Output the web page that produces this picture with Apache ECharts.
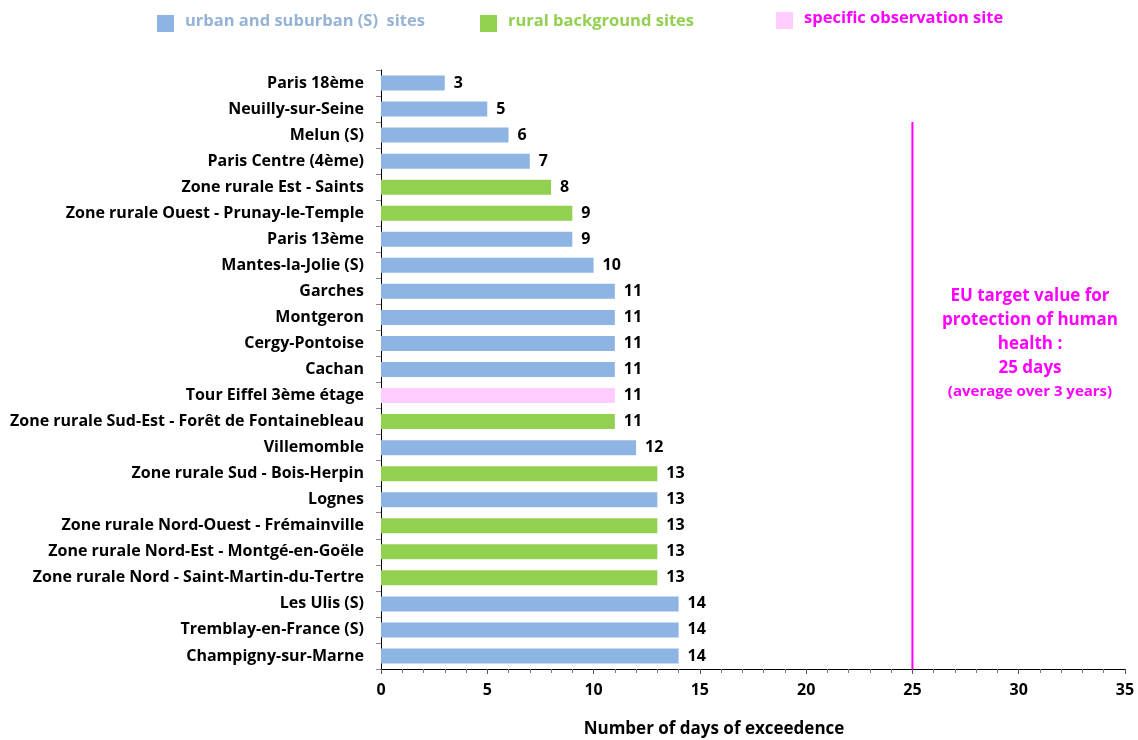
<!DOCTYPE html>
<html>
<head>
<meta charset="utf-8">
<script src="https://cdn.jsdelivr.net/npm/echarts@6/dist/echarts.min.js"></script>
<style>
    html, body { margin: 0; padding: 0; background: #fff; }
    #chart { width: 1138px; height: 740px; }
</style>
</head>
<body>
<div id="chart"></div>
<script>
var sites = [
    "Paris 18ème", "Neuilly-sur-Seine", "Melun (S)", "Paris Centre (4ème)",
    "Zone rurale Est - Saints", "Zone rurale Ouest - Prunay-le-Temple", "Paris 13ème",
    "Mantes-la-Jolie (S)", "Garches", "Montgeron", "Cergy-Pontoise", "Cachan",
    "Tour Eiffel 3ème étage", "Zone rurale Sud-Est - Forêt de Fontainebleau", "Villemomble",
    "Zone rurale Sud - Bois-Herpin", "Lognes", "Zone rurale Nord-Ouest - Frémainville",
    "Zone rurale Nord-Est - Montgé-en-Goële", "Zone rurale Nord - Saint-Martin-du-Tertre",
    "Les Ulis (S)", "Tremblay-en-France (S)", "Champigny-sur-Marne"
];
var days = [3, 5, 6, 7, 8, 9, 9, 10, 11, 11, 11, 11, 11, 11, 12, 13, 13, 13, 13, 13, 14, 14, 14];
// u = urban/suburban, r = rural background, s = specific observation
var siteType = ["u", "u", "u", "u", "r", "r", "u", "u", "u", "u", "u", "u", "s", "r", "u",
    "r", "u", "r", "r", "r", "u", "u", "u"];
var typeNames = {
    u: "urban and suburban (S)  sites",
    r: "rural background sites",
    s: "specific observation site"
};
var targetValue = 25;
var xTicks = [0, 5, 10, 15, 20, 25, 30, 35];

var barColors = { u: "#8EB4E3", r: "#92D050", s: "#FFCCFF" };
var legendTextColors = { u: "#95B3D7", r: "#92D050", s: "#FF00FF" };
var font = "'Open Sans', Lato, sans-serif";

var chart = echarts.init(document.getElementById("chart"));

function seriesFor(t) {
    var vals = [];
    for (var i = 0; i < days.length; i++) {
        vals.push(siteType[i] === t ? days[i] : "-");
    }
    return vals;
}

var series = [];
["u", "r", "s"].forEach(function (t) {
    series.push({
        name: typeNames[t],
        type: "bar",
        stack: "all",
        barWidth: 15,
        data: seriesFor(t),
        itemStyle: { color: barColors[t] },
        label: {
            show: true,
            position: "right",
            distance: 9,
            color: "#000",
            fontFamily: font,
            fontWeight: "bold",
            fontSize: 16
        },
        silent: true
    });
});

// legend drawn by hand so the three items sit where the original has them
var legendPos = { u: [157, 15], r: [480, 15], s: [776, 12] };
var graphics = [];
["u", "r", "s"].forEach(function (t) {
    var p = legendPos[t];
    graphics.push({
        type: "rect",
        left: p[0], top: p[1],
        shape: { width: 17, height: 17 },
        style: { fill: barColors[t] }
    });
    graphics.push({
        type: "text",
        x: p[0] + 28, y: p[1] + 6,
        style: {
            text: typeNames[t],
            fill: legendTextColors[t],
            font: "bold 16.5px " + font,
            verticalAlign: "middle"
        }
    });
});
graphics.push({
    type: "text",
    x: 1030, y: 284,
    style: {
        text: "{a|EU target value for}\n{a|protection of human}\n{a|health :}\n{a|25 days}\n{b|(average over 3 years)}",
        align: "center",
        fill: "#FF00FF",
        rich: {
            a: { font: "bold 17px " + font, fill: "#FF00FF", lineHeight: 24, align: "center" },
            b: { font: "bold 15px " + font, fill: "#FF00FF", lineHeight: 24, align: "center" }
        }
    }
});
graphics.push({
    type: "text",
    x: 714, y: 729,
    style: {
        text: "Number of days of exceedence",
        fill: "#000",
        font: "bold 17px " + font,
        align: "center",
        verticalAlign: "middle"
    }
});

var option = {
    backgroundColor: "#fff",
    animation: false,
    grid: { left: 381, right: 13, top: 70, bottom: 71, containLabel: false, outerBoundsMode: "none" },
    xAxis: {
        type: "value",
        min: xTicks[0],
        max: xTicks[xTicks.length - 1],
        interval: 5,
        axisLine: { show: true, lineStyle: { color: "#000", width: 1 } },
        axisTick: { show: true, length: 5, lineStyle: { color: "#555" } },
        minorTick: { show: true, splitNumber: 5, length: 4, lineStyle: { color: "#777" } },
        splitLine: { show: false },
        axisLabel: { color: "#000", fontFamily: font, fontWeight: "bold", fontSize: 16, margin: 13 }
    },
    yAxis: {
        type: "category",
        inverse: true,
        data: sites,
        axisLine: { show: true, lineStyle: { color: "#000", width: 1 } },
        axisTick: { show: true, length: 5, lineStyle: { color: "#888" } },
        axisLabel: { color: "#000", fontFamily: font, fontWeight: "bold", fontSize: 16, margin: 17 }
    },
    graphic: graphics,
    series: series
};
chart.setOption(option);

// target line: from the boundary above "Melun (S)" down to the x axis
var pA = chart.convertToPixel({ gridIndex: 0 }, [targetValue, sites[1]]);
var pB = chart.convertToPixel({ gridIndex: 0 }, [targetValue, sites[2]]);
var pEnd = chart.convertToPixel({ gridIndex: 0 }, [targetValue, sites[sites.length - 1]]);
var band = pB[1] - pA[1];
graphics.push({
    type: "line",
    shape: { x1: pA[0], y1: (pA[1] + pB[1]) / 2, x2: pA[0], y2: pEnd[1] + band / 2 },
    style: { stroke: "#FF00FF", lineWidth: 2 },
    z: 10
});
chart.setOption({ graphic: graphics });
</script>
</body>
</html>
